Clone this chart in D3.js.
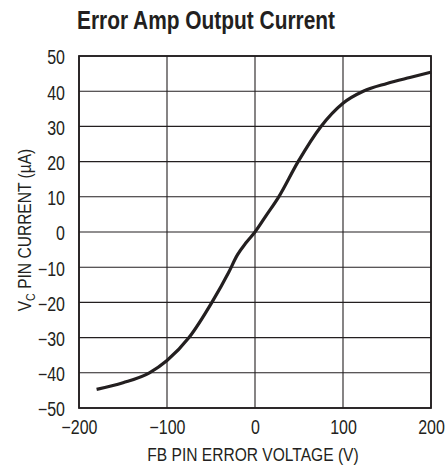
<!DOCTYPE html>
<html><head><meta charset="utf-8">
<script src="https://cdn.jsdelivr.net/npm/d3@7"></script>
<style>
body{margin:0;background:#fff;}
text{font-family:"Liberation Sans",Arial,sans-serif;fill:#231f20;}
</style></head><body>
<svg id="c" width="446" height="465"></svg>
<script>
const voltage = [-180,-150,-120,-100,-75,-49,-30,-20,-10,0,13,27,49,75,100,123,150,176,200];
const current = [-44.7,-42.8,-40,-36.5,-30,-20,-11.5,-6.5,-3,0,4.8,10,20,30,36.6,40,42.2,43.9,45.4];
const xTicks = [-200,-100,0,100,200];
const yTicks = [-50,-40,-30,-20,-10,0,10,20,30,40,50];
const title = "Error Amp Output Current";
const xLabel = "FB PIN ERROR VOLTAGE (V)";

const SX = 0.82;
const svg = d3.select("#c");
const L=79,R=431,T=56,B=408;
const x = d3.scaleLinear().domain([-200,200]).range([L,R]);
const y = d3.scaleLinear().domain([-50,50]).range([B,T]);
const ink="#231f20";

// grid
svg.append("g").selectAll("line").data(xTicks).join("line")
  .attr("x1",d=>x(d)).attr("x2",d=>x(d)).attr("y1",T).attr("y2",B)
  .attr("stroke",ink).attr("stroke-width",1.1);
svg.append("g").selectAll("line").data(yTicks).join("line")
  .attr("x1",L).attr("x2",R).attr("y1",d=>y(d)).attr("y2",d=>y(d))
  .attr("stroke",ink).attr("stroke-width",1.1);
svg.append("rect").attr("x",L).attr("y",T).attr("width",R-L).attr("height",B-T)
  .attr("fill","none").attr("stroke",ink).attr("stroke-width",1.8);

const fmt = d => d<0 ? "\u2212"+Math.abs(d) : String(d);
const ax = svg.append("g").attr("transform",`translate(0,${B})`)
  .call(d3.axisBottom(x).tickValues(xTicks).tickSize(0).tickPadding(12).tickFormat(fmt));
ax.select(".domain").remove();
ax.selectAll("text").attr("font-size",19.5).attr("font-family",null).attr("fill",ink)
  .attr("transform",`scale(${SX},1)`);
const ay = svg.append("g").attr("transform",`translate(${L},0)`)
  .call(d3.axisLeft(y).tickValues(yTicks).tickSize(0).tickPadding(14).tickFormat(fmt));
ay.select(".domain").remove();
ay.selectAll("text").attr("font-size",19.5).attr("font-family",null).attr("fill",ink)
  .attr("x",-14/SX).attr("dy","0.4em").attr("transform",`scale(${SX},1)`);

// curve
const pts = voltage.map((v,i)=>[v,current[i]]);
svg.append("path").datum(pts)
  .attr("d", d3.line().x(d=>x(d[0])).y(d=>y(d[1])).curve(d3.curveMonotoneX))
  .attr("fill","none").attr("stroke",ink).attr("stroke-width",3.2);

// title
svg.append("text").attr("transform",`translate(77,29) scale(${SX},1)`)
  .attr("font-size",25.5).attr("font-weight","bold").text(title);
// x label
svg.append("text").attr("transform",`translate(253,460.5) scale(${SX},1)`).attr("text-anchor","middle")
  .attr("font-size",19).text(xLabel);
// y label
const yl = svg.append("text").attr("transform",`translate(31,230) rotate(-90) scale(${SX},1)`)
  .attr("text-anchor","middle").attr("font-size",19);
yl.append("tspan").text("V");
yl.append("tspan").attr("font-size",13).attr("dy",4).text("C");
yl.append("tspan").attr("dy",-4).text(" PIN CURRENT (\u00b5A)");
</script></body></html>
